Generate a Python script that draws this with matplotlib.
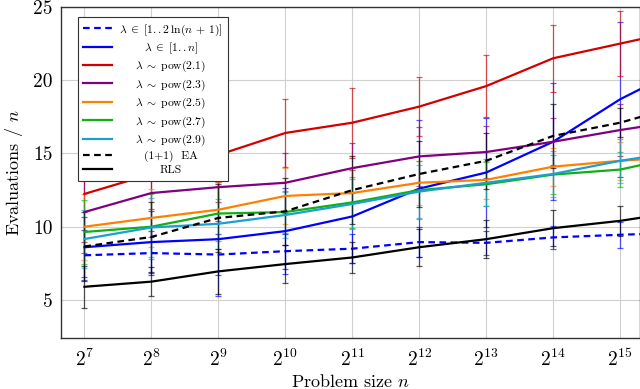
import matplotlib
matplotlib.use("Agg")
import matplotlib.pyplot as plt
import numpy as np

plt.rcParams['font.family'] = ['cmr10', 'DejaVu Serif']
plt.rcParams['mathtext.fontset'] = 'cm'
plt.rcParams['axes.formatter.use_mathtext'] = True

# log2 of problem size (2^16 lies just beyond the visible range)
log_n = [7, 8, 9, 10, 11, 12, 13, 14, 15, 16]
xtick_labels = [r'$2^{%d}$' % k for k in range(7, 16)]

labels = [r'$\lambda \;\in\; [1..2\,\ln(n\,+\,1)]$', r'$\lambda \;\in\; [1..n]$',
          r'$\lambda \;\sim\; \mathrm{pow}(2.1)$', r'$\lambda \;\sim\; \mathrm{pow}(2.3)$',
          r'$\lambda \;\sim\; \mathrm{pow}(2.5)$', r'$\lambda \;\sim\; \mathrm{pow}(2.7)$',
          r'$\lambda \;\sim\; \mathrm{pow}(2.9)$', '(1+1)  EA', 'RLS']

ln_mean = [8.05, 8.2, 8.1, 8.33, 8.5, 8.95, 8.9, 9.27, 9.45, 9.6]
ln_err = [1.7, 1.5, 1.4, 1.2, 1.0, 1.0, 0.8, 0.8, 0.9, 0.9]
n_mean = [8.6, 8.95, 9.15, 9.7, 10.7, 12.6, 13.7, 15.8, 18.7, 21.0]
n_err = [2.05, 2.1, 3.9, 2.95, 3.2, 4.7, 3.75, 4.0, 5.3, 5.5]
p21_mean = [12.24, 13.6, 14.9, 16.4, 17.1, 18.2, 19.6, 21.5, 22.5, 23.5]
p21_err = [3.25, 2.4, 3.2, 2.35, 2.4, 2.0, 2.1, 2.3, 2.2, 2.2]
p23_mean = [11.0, 12.3, 12.7, 13.0, 14.0, 14.8, 15.1, 15.8, 16.6, 17.3]
p23_err = [2.8, 3.0, 2.3, 2.05, 1.7, 2.0, 1.8, 1.6, 1.8, 1.8]
p25_mean = [10.0, 10.6, 11.16, 12.1, 12.3, 13.0, 13.2, 14.1, 14.5, 14.8]
p25_err = [2.25, 2.0, 1.9, 1.9, 1.55, 1.5, 1.3, 1.3, 1.3, 1.3]
p27_mean = [9.64, 10.0, 10.9, 11.0, 11.66, 12.5, 12.9, 13.56, 13.9, 14.9]
p27_err = [2.2, 2.2, 1.9, 1.45, 1.75, 2.0, 1.5, 1.35, 1.2, 1.2]
p29_mean = [9.16, 9.95, 10.2, 10.8, 11.55, 12.4, 13.0, 13.6, 14.5, 15.2]
p29_err = [2.0, 2.0, 1.7, 1.6, 1.7, 1.8, 1.6, 1.6, 1.5, 1.5]
ea_mean = [8.65, 9.3, 10.6, 11.05, 12.5, 13.6, 14.5, 16.2, 17.1, 18.4]
ea_err = [2.35, 2.4, 2.3, 2.3, 2.3, 2.25, 1.9, 2.2, 1.0, 1.3]
rls_mean = [5.9, 6.25, 6.95, 7.45, 7.9, 8.6, 9.15, 9.9, 10.4, 11.1]
rls_err = [1.45, 1.0, 1.55, 1.3, 1.05, 1.25, 1.3, 1.25, 1.0, 1.0]

means = [ln_mean, n_mean, p21_mean, p23_mean, p25_mean, p27_mean, p29_mean, ea_mean, rls_mean]
errs = [ln_err, n_err, p21_err, p23_err, p25_err, p27_err, p29_err, ea_err, rls_err]
colors = ['#0000ff', '#0000ff', '#d40000', '#800080', '#ff8000', '#10b010', '#1a9fd4', 'black', 'black']
styles = ['--', '-', '-', '-', '-', '-', '-', '--', '-']

fig = plt.figure(figsize=(6.4, 3.89), dpi=100)
ax = fig.add_axes([0.0953, 0.131, 0.905, 0.851])

for m, e, c, ls, lab in zip(means, errs, colors, styles, labels):
    ax.errorbar(log_n, m, yerr=e, fmt='none', ecolor=c, elinewidth=0.9,
                capsize=2.5, capthick=0.9, alpha=0.65, zorder=2)
    ax.plot(log_n, m, color=c, ls=ls, lw=1.6, label=lab, zorder=3,
            dashes=(3, 2) if ls == '--' else (None, None))

ax.set_xlim(6.65, 15.3)
ax.set_ylim(2.4, 25)
ax.set_xticks(range(7, 16))
ax.set_xticklabels(xtick_labels)
ax.set_yticks([5, 10, 15, 20, 25])
ax.set_yticklabels(['5', '10', '15', '20', '25'])
ax.tick_params(axis='both', labelsize=14, length=0, pad=6)
ax.tick_params(axis='x', pad=8)
ax.grid(True, color='#d0d0d0', lw=0.8)
ax.set_axisbelow(True)
for s in ax.spines.values():
    s.set_color('#333333')
    s.set_linewidth(1.0)
ax.set_xlabel(r'Problem size $n$', fontsize=13, labelpad=2)
ax.set_ylabel(r'Evaluations / $n$', fontsize=13, labelpad=6)

leg = ax.legend(loc='upper left', bbox_to_anchor=(0.029, 0.97), fontsize=8.4,
                frameon=True, fancybox=False, edgecolor='#333333',
                framealpha=1, handlelength=2.5, labelspacing=0.26,
                borderpad=0.45, handletextpad=0.6, borderaxespad=0)
leg.get_frame().set_linewidth(0.8)

fig.canvas.draw()
texts = leg.get_texts()
widths = [t.get_window_extent().width for t in texts]
mw = max(widths)
for t, w in zip(texts, widths):
    t.set_position(((mw - w) / 2.0, 0))

fig.savefig('out.png', dpi=100)
